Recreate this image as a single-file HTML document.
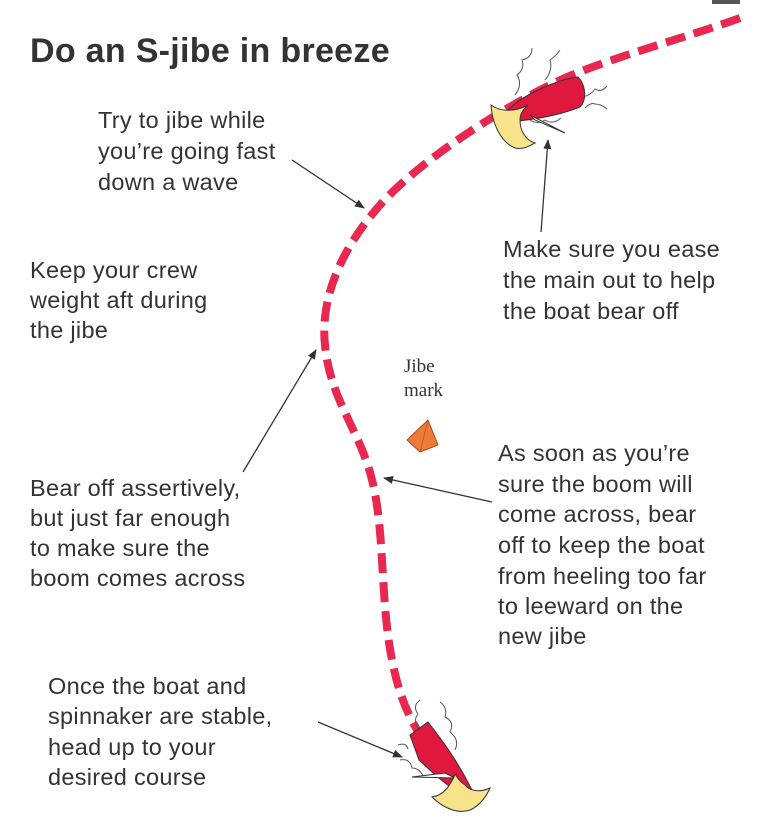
<!DOCTYPE html>
<html><head><style>
body{margin:0;background:#fff;}
svg{display:block}
text{font-family:"Liberation Sans",sans-serif;fill:#333;}
.t{font-size:23.5px;letter-spacing:0.3px;}
</style></head><body>
<svg width="763" height="831" viewBox="0 0 763 831" xmlns="http://www.w3.org/2000/svg">
<rect x="712" y="0" width="28" height="4" fill="#555"/>
<text x="30" y="62" font-size="34" font-weight="bold" fill="#3a3a3a" style="letter-spacing:0.3px">Do an S-jibe in breeze</text>
<!-- course -->
<path d="M740 18 C680 40 600 60 550 85 C500 110 420 160 380 205 C340 250 320 300 325 345 C330 400 360 430 372 480 C385 530 380 600 392 660 C398 690 405 710 420 735" fill="none" stroke="#e8284f" stroke-width="8" stroke-dasharray="20 9"/>
<!-- top boat -->
<g stroke="#555" stroke-width="1" fill="none">
<path d="M515 95 q8-10 2-20 q8-6 5-15 q10-2 10-12 M545 80 q8-10 5-20 q6-4 10-10 M583 97 q8-2 12-8 q6 4 12-3 M585 108 q6-6 10-4 q6 0 12 5 M530 120 q8 5 15 0 q8 5 16-2"/>
</g>
<path d="M504 115 C515 98 555 80 578 77 C586 85 587 100 580 107 C560 115 535 120 506 122 Z" fill="#e0183e" stroke="#333" stroke-width="1"/>
<path d="M530 115 L565 133 L535 120 Z" fill="#fff" stroke="#333" stroke-width="1"/>
<path d="M491 105 C492 122 500 142 515 148 C525 150 530 145 535 143 C525 140 520 130 520 120 C520 112 525 108 528 105 C515 112 500 112 491 105 Z" fill="#f7e48a" stroke="#333" stroke-width="1"/>
<!-- bottom boat -->
<g stroke="#555" stroke-width="1" fill="none">
<path d="M420 730 q-8-8-2-16 q-6-8 2-14 M440 702 q8 6 5 15 q10 5 5 15 q10 8 5 18 M400 760 q10-2 12 8 q8 0 12 10 M398 745 q8-3 10 4"/>
</g>
<path d="M410 735 L428 722 C442 740 457 760 472 790 L460 793 C445 785 430 770 419 760 Z" fill="#e0183e" stroke="#333" stroke-width="1"/>
<path d="M412 777 L445 773 L455 778 Z" fill="#fff" stroke="#333" stroke-width="1"/>
<path d="M432 797 C440 805 455 815 470 810 C480 806 487 795 490 788 C482 792 470 792 465 785 C458 780 455 775 456 773 C450 785 445 795 432 797 Z" fill="#f7e48a" stroke="#333" stroke-width="1"/>
<!-- mark -->
<path d="M407 440 L428 420 L438 445 L420 452 Z" fill="#f07a3a" stroke="#b04a20" stroke-width="1"/>
<path d="M428 420 L420 452" stroke="#c05a28" stroke-width="1"/>
<text x="404" y="372" font-size="19" style="font-family:'Liberation Serif',serif">Jibe</text>
<text x="404" y="396" font-size="19" style="font-family:'Liberation Serif',serif">mark</text>
<!-- arrows -->
<defs><marker id="a" markerWidth="10" markerHeight="10" refX="9" refY="5" orient="auto" markerUnits="userSpaceOnUse"><path d="M0 1 L10 5 L0 9 Z" fill="#333"/></marker></defs>
<g stroke="#333" stroke-width="1.3" marker-end="url(#a)">
<line x1="292" y1="160" x2="364" y2="208"/>
<line x1="541" y1="232" x2="548" y2="140"/>
<line x1="243" y1="472" x2="316" y2="350"/>
<line x1="492" y1="502" x2="384" y2="478"/>
<line x1="318" y1="722" x2="402" y2="757"/>
</g>
<g class="t">
<text x="98" y="128">Try to jibe while</text>
<text x="98" y="159">you’re going fast</text>
<text x="98" y="190">down a wave</text>
<text x="30" y="278">Keep your crew</text>
<text x="30" y="308">weight aft during</text>
<text x="30" y="338">the jibe</text>
<text x="503" y="257">Make sure you ease</text>
<text x="503" y="288">the main out to help</text>
<text x="503" y="319">the boat bear off</text>
<text x="30" y="496">Bear off assertively,</text>
<text x="30" y="526">but just far enough</text>
<text x="30" y="556">to make sure the</text>
<text x="30" y="586">boom comes across</text>
<text x="498" y="461">As soon as you’re</text>
<text x="498" y="492">sure the boom will</text>
<text x="498" y="522">come across, bear</text>
<text x="498" y="553">off to keep the boat</text>
<text x="498" y="584">from heeling too far</text>
<text x="498" y="614">to leeward on the</text>
<text x="498" y="644">new jibe</text>
<text x="48" y="694">Once the boat and</text>
<text x="48" y="724">spinnaker are stable,</text>
<text x="48" y="755">head up to your</text>
<text x="48" y="785">desired course</text>
</g>
</svg>
</body></html>
